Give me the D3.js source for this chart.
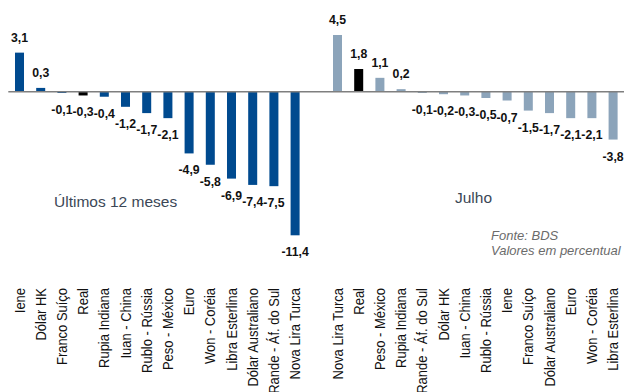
<!DOCTYPE html>
<html><head><meta charset="utf-8">
<script src="https://cdn.jsdelivr.net/npm/d3@7"></script>
<style>body{margin:0;background:#fff}svg{display:block}svg text{font-family:"Liberation Sans",Arial,Helvetica,sans-serif}</style>
</head><body>
<svg id="c" width="626" height="392"></svg>
<script>
const leftCats = ["Iene","Dólar HK","Franco Suíço","Real","Rupia Indiana","Iuan - China","Rublo - Rússia","Peso - México","Euro","Won - Coréia","Libra Esterlina","Dólar Australiano","Rande - Áf. do Sul","Nova Lira Turca"];
const leftVals = [3.1,0.3,-0.1,-0.3,-0.4,-1.2,-1.7,-2.1,-4.9,-5.8,-6.9,-7.4,-7.5,-11.4];
const rightCats = ["Nova Lira Turca","Real","Peso - México","Rupia Indiana","Rande - Áf. do Sul","Dólar HK","Iuan - China","Rublo - Rússia","Iene","Franco Suíço","Dólar Australiano","Euro","Won - Coréia","Libra Esterlina"];
const rightVals = [4.5,1.8,1.1,0.2,-0.1,-0.2,-0.3,-0.5,-0.7,-1.5,-1.7,-2.1,-2.1,-3.8];
const panelTitles = ["Últimos 12 meses","Julho"];
const notes = ["Fonte: BDS","Valores em percentual"];

const data = [];
leftCats.forEach((c,i)=>data.push({slot:i,cat:c,v:leftVals[i],panel:0}));
rightCats.forEach((c,i)=>data.push({slot:i+15,cat:c,v:rightVals[i],panel:1}));

const svg = d3.select("#c");
const x = d3.scaleBand().domain(d3.range(29)).range([8.9,623.7]).paddingInner(0.575).paddingOuter(0.2875);
const y = d3.scaleLinear().domain([-11.4,4.5]).range([235.3,35]);
const fmt = v => String(v).replace(".", ",");
const color = d => d.cat==="Real" ? "#000000" : (d.panel===0 ? "#004a8f" : "#8ca4ba");

svg.append("g").selectAll("rect").data(data).join("rect")
  .attr("x",d=>x(d.slot)).attr("width",x.bandwidth())
  .attr("y",d=>y(Math.max(0,d.v))).attr("height",d=>Math.abs(y(d.v)-y(0)))
  .attr("fill",color);

svg.append("line").attr("x1",8.3).attr("x2",624).attr("y1",y(0)).attr("y2",y(0))
  .attr("stroke","#7f7f7f").attr("stroke-width",1.5);

svg.append("g").selectAll("text").data(data).join("text")
  .attr("transform",d=>`translate(${x(d.slot)+x.bandwidth()/2},${d.v>=0 ? y(d.v)-11 : y(d.v)+21}) scale(0.93,1)`)
  .attr("text-anchor","middle")
  .attr("font-weight","bold").attr("font-size","13.2px")
  .attr("fill","#111").text(d=>fmt(d.v));

svg.append("g").selectAll("text").data(data).join("text")
  .attr("transform",d=>`translate(${x(d.slot)+x.bandwidth()/2},288) rotate(-90) scale(0.9,1)`)
  .attr("text-anchor","end").attr("dy","0.36em")
  .attr("font-size","14.4px")
  .attr("fill","#111").text(d=>d.cat);

svg.append("text").attr("x",54).attr("y",207)
  .attr("font-size","15.5px").attr("fill","#3b4756").text(panelTitles[0]);
svg.append("text").attr("x",455).attr("y",203)
  .attr("font-size","15.5px").attr("fill","#3b4756").text(panelTitles[1]);

svg.append("g").selectAll("text").data(notes).join("text")
  .attr("x",491).attr("y",(d,i)=>240+i*15)
  .attr("font-style","italic").attr("font-size","13px")
  .attr("fill","#6b6b6b").text(d=>d);
</script>
</body></html>
